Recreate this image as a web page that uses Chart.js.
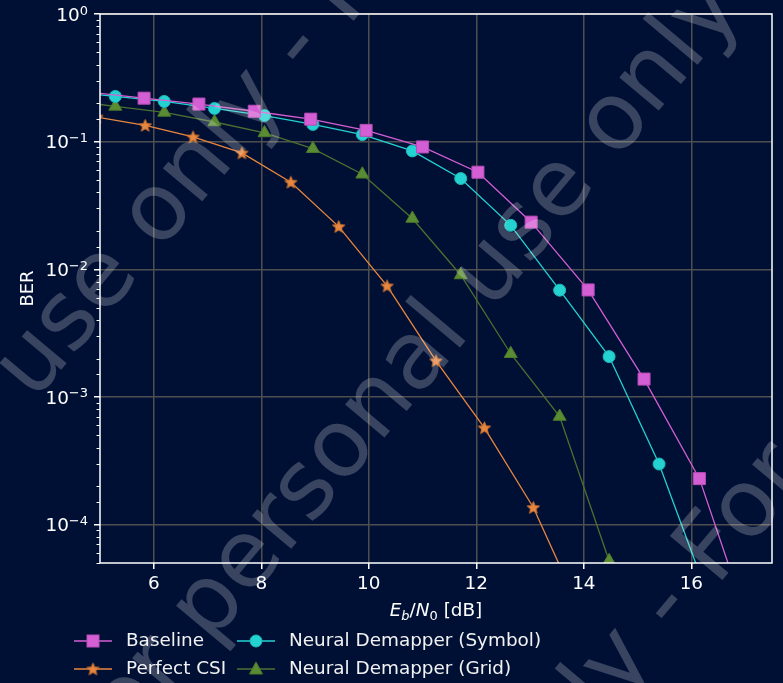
<!DOCTYPE html>
<html>
<head>
<meta charset="utf-8">
<script src="https://cdn.jsdelivr.net/npm/chart.js@4.4.1/dist/chart.umd.min.js"></script>
<style>
  html, body { margin: 0; padding: 0; background: #001034; }
  #wrap { position: relative; width: 783px; height: 683px; }
</style>
</head>
<body>
<div id="wrap"><canvas id="berChart"></canvas></div>
<script>
// values (Eb/N0 in dB, BER)
const ebnoBaseline = [4.79, 5.82, 6.84, 7.87, 8.92, 9.95, 11.0, 12.03, 13.02, 14.08, 15.12, 16.15, 17.18];
const berBaseline = [0.244, 0.219, 0.197, 0.173, 0.150, 0.1225, 0.0909, 0.0576, 0.0234, 0.00689, 0.00138, 0.000229, 0.000012];

const ebnoPerfect = [4.94, 5.84, 6.73, 7.64, 8.55, 9.44, 10.34, 11.25, 12.15, 13.06, 13.96];
const berPerfect = [0.156, 0.134, 0.1088, 0.0816, 0.0481, 0.0216, 0.00741, 0.00192, 0.000573, 0.000136, 0.00002];

const ebnoSymbol = [4.36, 5.285, 6.195, 7.13, 8.06, 8.96, 9.88, 10.81, 11.71, 12.64, 13.55, 14.47, 15.40, 16.33];
const berSymbol = [0.248, 0.226, 0.2065, 0.182, 0.160, 0.1365, 0.1135, 0.0846, 0.0514, 0.0221, 0.00686, 0.00207, 0.000298, 0.000026];

const ebnoGrid = [4.36, 5.285, 6.195, 7.13, 8.06, 8.96, 9.88, 10.81, 11.71, 12.64, 13.55, 14.47];
const berGrid = [0.211, 0.1888, 0.1694, 0.1425, 0.117, 0.0881, 0.0555, 0.0250, 0.00902, 0.00218, 0.000702, 0.000052];

const xTickValues = [6, 8, 10, 12, 14, 16];
const yMajorTicks = [1, 1e-1, 1e-2, 1e-3, 1e-4];
const yTickExponents = ['0', '\u22121', '\u22122', '\u22123', '\u22124'];

const BG = '#001034';
const GRID = '#4e4e4e';
const FONT = "'DejaVu Sans', sans-serif";
const FS = 18.4;

function pts(xs, ys) {
    return xs.map((x, i) => ({ x: x, y: ys[i] }));
}

function isMajor(v) {
    return yMajorTicks.some(m => Math.abs(m - v) / m < 1e-6);
}

// filled five point star like matplotlib's '*'
function makeStar(fill, edge, r) {
    const c = document.createElement('canvas');
    const s = Math.ceil(r * 2 + 4);
    c.width = s; c.height = s;
    const g = c.getContext('2d');
    g.beginPath();
    for (let i = 0; i < 10; i++) {
        const rad = i % 2 ? r * 0.45 : r;
        const a = -Math.PI / 2 + i * Math.PI / 5;
        const px = s / 2 + rad * Math.cos(a), py = s / 2 + rad * Math.sin(a) + 0.5;
        if (i === 0) g.moveTo(px, py); else g.lineTo(px, py);
    }
    g.closePath();
    g.fillStyle = fill; g.fill();
    g.strokeStyle = edge; g.lineWidth = 1; g.stroke();
    return c;
}

const starImg = makeStar('#e8873f', '#c8702f', 6.5);

const series = [
    { label: 'Baseline', data: pts(ebnoBaseline, berBaseline), color: '#d45ed4', edge: '#b84db8', marker: 'rect', radius: 8.5 },
    { label: 'Perfect CSI', data: pts(ebnoPerfect, berPerfect), color: '#e8873f', edge: '#c8702f', marker: starImg, radius: 6 },
    { label: 'Neural Demapper (Symbol)', data: pts(ebnoSymbol, berSymbol), color: '#24d2d2', edge: '#1cb8b8', marker: 'circle', radius: 6 },
    { label: 'Neural Demapper (Grid)', data: pts(ebnoGrid, berGrid), color: '#5a8c33', edge: '#4d7a2b', marker: 'triangle', radius: 7.5, line: '#4c7030' }
];

function drawMarker(ctx, s, x, y) {
    ctx.save();
    ctx.fillStyle = s.color;
    ctx.strokeStyle = s.edge;
    ctx.lineWidth = 1;
    if (s.marker === 'rect') {
        ctx.fillRect(x - 6, y - 6, 12, 12);
        ctx.strokeRect(x - 6, y - 6, 12, 12);
    } else if (s.marker === 'circle') {
        ctx.beginPath(); ctx.arc(x, y, 6, 0, Math.PI * 2); ctx.fill(); ctx.stroke();
    } else if (s.marker === 'triangle') {
        ctx.beginPath();
        ctx.moveTo(x, y - 7); ctx.lineTo(x + 6.5, y + 5); ctx.lineTo(x - 6.5, y + 5);
        ctx.closePath(); ctx.fill(); ctx.stroke();
    } else {
        ctx.drawImage(s.marker, x - s.marker.width / 2, y - s.marker.height / 2);
    }
    ctx.restore();
}

const bgPlugin = {
    id: 'bgFill',
    beforeDraw(chart) {
        const ctx = chart.ctx;
        ctx.save();
        ctx.fillStyle = BG;
        ctx.fillRect(0, 0, chart.width, chart.height);
        ctx.restore();
    }
};

const decorPlugin = {
    id: 'decor',
    afterDraw(chart) {
        const ctx = chart.ctx, a = chart.chartArea, ys = chart.scales.y;
        ctx.save();

        // minor ticks on the log axis
        ctx.strokeStyle = '#ffffff';
        ctx.lineWidth = 1;
        ys.ticks.forEach(t => {
            if (isMajor(t.value)) return;
            const py = Math.round(ys.getPixelForValue(t.value)) + 0.5;
            ctx.beginPath(); ctx.moveTo(a.left - 3.5, py); ctx.lineTo(a.left, py); ctx.stroke();
        });

        // y tick labels 10^k
        ctx.fillStyle = '#ffffff';
        ctx.textAlign = 'left';
        ctx.textBaseline = 'alphabetic';
        yMajorTicks.forEach((v, i) => {
            const py = ys.getPixelForValue(v);
            ctx.font = FS + 'px ' + FONT;
            const wb = ctx.measureText('10').width;
            ctx.font = '13px ' + FONT;
            const we = ctx.measureText(yTickExponents[i]).width;
            const x0 = a.left - 12 - wb - we;
            ctx.font = FS + 'px ' + FONT;
            ctx.fillText('10', x0, py + 6.8);
            ctx.font = '13px ' + FONT;
            ctx.fillText(yTickExponents[i], x0 + wb, py + 0.5);
        });

        // axes frame
        ctx.lineWidth = 1.5;
        ctx.strokeStyle = '#ffffff';
        ctx.strokeRect(a.left, a.top, a.right - a.left, a.bottom - a.top);

        // x axis title  E_b/N_0 [dB]
        const parts = [
            { t: 'E', f: 'italic ' + FS + 'px ' + FONT, dy: 0 },
            { t: 'b', f: 'italic 13px ' + FONT, dy: 4 },
            { t: '/', f: FS + 'px ' + FONT, dy: 0 },
            { t: 'N', f: 'italic ' + FS + 'px ' + FONT, dy: 0 },
            { t: '0', f: '13px ' + FONT, dy: 4 },
            { t: ' [dB]', f: FS + 'px ' + FONT, dy: 0 }
        ];
        let total = 0;
        parts.forEach(p => { ctx.font = p.f; p.w = ctx.measureText(p.t).width; total += p.w; });
        let cx = (a.left + a.right) / 2 - total / 2;
        parts.forEach(p => { ctx.font = p.f; ctx.fillText(p.t, cx, 616 + p.dy); cx += p.w; });

        // legend, two columns filled top to bottom
        const cols = [74, 237];
        const rows = [641, 669];
        ctx.font = FS + 'px ' + FONT;
        ctx.textBaseline = 'middle';
        series.forEach((s, i) => {
            const x0 = cols[Math.floor(i / 2)], y0 = rows[i % 2];
            ctx.strokeStyle = s.line || s.color;
            ctx.lineWidth = 1.3;
            ctx.beginPath(); ctx.moveTo(x0, y0); ctx.lineTo(x0 + 38, y0); ctx.stroke();
            drawMarker(ctx, s, x0 + 19, y0);
            ctx.fillStyle = '#f2f2f2';
            ctx.fillText(s.label, x0 + 52, y0);
        });

        // watermark
        const wm = [
            { text: 'use only - For', anchor: 'use ', word: 'only', x: 205, y: 160 },
            { text: 'For personal use only - For', anchor: 'For personal ', word: 'use', x: 525, y: 232 },
            { text: 'use only - For personal', anchor: 'use only - ', word: 'For', x: 745, y: 515 }
        ];
        ctx.font = '94px ' + FONT;
        ctx.fillStyle = 'rgba(255,255,255,0.22)';
        ctx.textBaseline = 'middle';
        wm.forEach(w => {
            const off = ctx.measureText(w.anchor).width + ctx.measureText(w.word).width / 2;
            ctx.save();
            ctx.translate(w.x, w.y);
            ctx.rotate(-50 * Math.PI / 180);
            ctx.fillText(w.text, -off, 0);
            ctx.restore();
        });

        ctx.restore();
    }
};

const datasets = series.map(s => ({
    label: s.label,
    data: s.data,
    borderColor: s.line || s.color,
    backgroundColor: s.color,
    borderWidth: 1.3,
    pointStyle: s.marker,
    pointRadius: s.radius,
    pointHoverRadius: s.radius,
    pointBackgroundColor: s.color,
    pointBorderColor: s.edge,
    pointBorderWidth: 1,
    tension: 0
}));

new Chart(document.getElementById('berChart'), {
    type: 'line',
    data: { datasets: datasets },
    plugins: [bgPlugin, decorPlugin],
    options: {
        responsive: true,
        maintainAspectRatio: false,
        animation: false,
        devicePixelRatio: 1,
        layout: { padding: { left: 0, right: 11, top: 14, bottom: 0 } },
        plugins: { legend: { display: false }, tooltip: { enabled: false } },
        scales: {
            x: {
                type: 'linear',
                min: 5,
                max: 17.5,
                afterBuildTicks(scale) { scale.ticks = xTickValues.map(v => ({ value: v })); },
                afterFit(scale) { scale.height = 120; },
                ticks: { color: '#ffffff', font: { family: FONT, size: FS }, padding: 4, maxRotation: 0 },
                grid: { color: GRID, lineWidth: 1.5, tickColor: '#ffffff', tickLength: 6 },
                border: { display: false }
            },
            y: {
                type: 'logarithmic',
                min: 5e-5,
                max: 1,
                afterFit(scale) { scale.width = 100; },
                ticks: { display: false, autoSkip: false },
                grid: {
                    color: c => (c.tick && isMajor(c.tick.value)) ? GRID : 'transparent',
                    tickColor: c => (c.tick && isMajor(c.tick.value)) ? '#ffffff' : 'transparent',
                    lineWidth: 1.5,
                    tickLength: 6
                },
                border: { display: false },
                title: { display: true, text: 'BER', color: '#ffffff', font: { family: FONT, size: 18 }, padding: { top: 18, bottom: 0 } }
            }
        }
    }
});
</script>
</body>
</html>
